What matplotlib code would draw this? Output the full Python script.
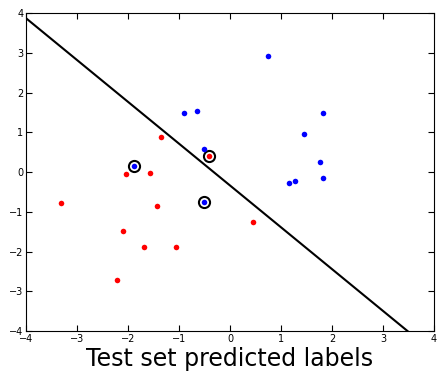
import matplotlib
matplotlib.use('Agg')
import matplotlib.pyplot as plt

blue_x = [0.75, 1.82, 1.46, 1.76, 1.82, 1.16, 1.28, -0.90, -0.64, -0.50, -1.88, -0.51]
blue_y = [2.92, 1.48, 0.95, 0.25, -0.16, -0.27, -0.22, 1.49, 1.53, 0.57, 0.14, -0.75]
red_x = [-0.42, -1.35, -2.03, -1.56, -3.32, -1.43, -2.10, -1.69, -1.05, -2.22, 0.45]
red_y = [0.41, 0.89, -0.06, -0.03, -0.78, -0.85, -1.49, -1.89, -1.88, -2.71, -1.26]
sv_x = [-1.88, -0.51, -0.42]
sv_y = [0.14, -0.75, 0.41]
line_x = [-4.0, 3.48]
line_y = [3.87, -4.0]
ticks = [-4, -3, -2, -1, 0, 1, 2, 3, 4]

fig = plt.figure(figsize=(4.39, 3.73), dpi=100)
ax = fig.add_axes([0.0592, 0.1126, 0.9294, 0.8525])

ax.plot(line_x, line_y, color='k', lw=1.5)
ax.plot(sv_x, sv_y, 'o', ms=8, mfc='none', mec='k', mew=1.5)
ax.plot(blue_x, blue_y, 'o', color='b', ms=4, mew=0)
ax.plot(red_x, red_y, 'o', color='r', ms=4, mew=0)

ax.set_xlim(-4, 4)
ax.set_ylim(-4, 4)
ax.set_xticks(ticks)
ax.set_yticks(ticks)
ax.tick_params(direction='in', top=True, right=True, labelsize=7, pad=2, length=4)
ax.set_xlabel('Test set predicted labels', fontsize=17, color='black', labelpad=2)

fig.savefig('out.png', dpi=100)
